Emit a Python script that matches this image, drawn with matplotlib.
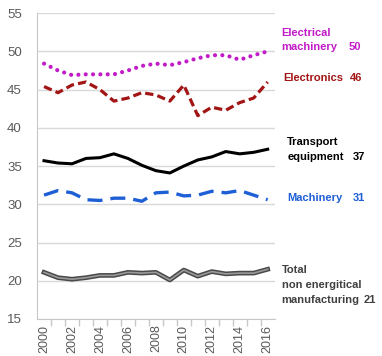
import matplotlib
matplotlib.use("Agg")
import matplotlib.pyplot as plt

years = list(range(2000, 2017))

electrical_machinery = [48.4, 47.5, 46.9, 47.0, 47.0, 47.0, 47.5, 48.1, 48.4, 48.2, 48.6, 49.1, 49.5, 49.5, 48.9, 49.5, 50.0]
electronics = [45.4, 44.6, 45.6, 46.0, 45.0, 43.5, 43.9, 44.6, 44.3, 43.5, 45.6, 41.6, 42.7, 42.3, 43.3, 43.9, 46.0]
transport = [35.7, 35.4, 35.3, 36.0, 36.1, 36.6, 36.0, 35.1, 34.4, 34.1, 35.0, 35.8, 36.2, 36.9, 36.6, 36.8, 37.2]
machinery = [31.2, 31.8, 31.5, 30.6, 30.5, 30.8, 30.8, 30.4, 31.5, 31.6, 31.1, 31.2, 31.7, 31.5, 31.8, 31.2, 30.6]
total = [21.1, 20.4, 20.2, 20.4, 20.7, 20.7, 21.1, 21.0, 21.1, 20.1, 21.4, 20.6, 21.2, 20.9, 21.0, 21.0, 21.5]

plt.rcParams["font.family"] = ["Liberation Sans", "DejaVu Sans"]

MAGENTA = "#C21BC8"
DARKRED = "#A31515"
BLUE = "#1F5FD6"
GRAY_TXT = "#404040"

fig = plt.figure(figsize=(3.82, 3.56), dpi=100)
ax = fig.add_axes([0.097, 0.104, 0.622, 0.859])

ax.plot(years, electrical_machinery, color=MAGENTA, lw=3.0, linestyle=(0, (0.01, 1.75)),
        dash_capstyle="round", zorder=3)
ax.plot(years, electronics, color=DARKRED, lw=2.3, linestyle=(0, (2.6, 1.3)), zorder=3)
ax.plot(years, transport, color="black", lw=2.2, zorder=3)
ax.plot(years, machinery, color=BLUE, lw=2.4, linestyle=(0, (4.5, 2.4)), zorder=3)
ax.plot(years, total, color="#4a4a4a", lw=3.4, zorder=3)
ax.plot(years, total, color="#9a9a9a", lw=1.2, zorder=3)

ax.set_xlim(1999.5, 2016.5)
ax.set_ylim(15, 55)
ax.set_yticks(range(15, 56, 5))
ax.set_xticks(years[::2])
ax.set_xticks([y + 0.5 for y in years[:-1]], minor=True)
ax.tick_params(axis="x", which="major", length=0, rotation=90, labelsize=9,
               labelcolor="#595959", pad=4)
ax.tick_params(axis="x", which="minor", length=5, color="#c8c8c8", width=1)
ax.tick_params(axis="y", length=0, labelsize=9.5, labelcolor="#595959", pad=11)
ax.grid(axis="y", color="#d9d9d9", lw=1)
ax.set_axisbelow(True)
for s in ("top", "right"):
    ax.spines[s].set_visible(False)
for s in ("left", "bottom"):
    ax.spines[s].set_color("#c8c8c8")

# labels at the right side, one line at a time
kw = dict(fontsize=8, fontweight="bold", clip_on=False, va="center")
ax.text(2017.0, 52.4, "Electrical", color=MAGENTA, **kw)
ax.text(2017.0, 50.55, "machinery", color=MAGENTA, **kw)
ax.text(2021.8, 50.55, "50", color=MAGENTA, **kw)
ax.text(2017.1, 46.5, "Electronics", color=DARKRED, **kw)
ax.text(2021.9, 46.5, "46", color=DARKRED, **kw)
ax.text(2017.4, 38.1, "Transport", color="black", **kw)
ax.text(2017.4, 36.2, "equipment", color="black", **kw)
ax.text(2022.1, 36.2, "37", color="black", **kw)
ax.text(2017.4, 30.8, "Machinery", color=BLUE, **kw)
ax.text(2022.1, 30.8, "31", color=BLUE, **kw)
ax.text(2017.0, 21.4, "Total", color=GRAY_TXT, **kw)
ax.text(2017.0, 19.45, "non energitical", color=GRAY_TXT, **kw)
ax.text(2017.0, 17.5, "manufacturing", color=GRAY_TXT, **kw)
ax.text(2022.85, 17.5, "21", color=GRAY_TXT, **kw)

fig.savefig("out.png", dpi=100)
